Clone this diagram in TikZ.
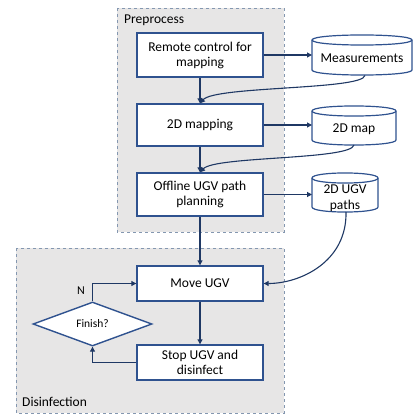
\documentclass[tikz,border=0pt]{standalone}
\usepackage{fontspec}
\setmainfont{Carlito}
\usetikzlibrary{arrows.meta,shapes.geometric,calc}
\definecolor{boxblue}{RGB}{47,82,143}
\definecolor{arrowblue}{RGB}{31,56,100}
\definecolor{groupfill}{RGB}{231,230,230}
\definecolor{groupline}{RGB}{132,151,176}
\tikzset{
  group/.style={fill=groupfill,draw=groupline,dashed,line width=0.9pt},
  proc/.style={draw=boxblue,fill=white,line width=1.4pt,minimum width=126pt,align=center,inner sep=1pt,font=\fontsize{13.5}{15}\selectfont},
  cyl/.style={draw=boxblue,fill=white,line width=1.2pt},
  lbl/.style={inner sep=0pt,font=\fontsize{13.5}{15}\selectfont,align=center},
  conn/.style={draw=arrowblue,line width=1.1pt,-{Triangle[length=5pt,width=5pt]}},
  dec/.style={diamond,draw=boxblue,fill=white,line width=1.4pt,minimum width=119pt,minimum height=44pt,inner sep=0pt,font=\fontsize{11.5}{13}\selectfont}
}
\begin{document}
\begin{tikzpicture}[x=1pt,y=-1pt]
\useasboundingbox (0,0) rectangle (414,414);
% groups
\draw[group] (117,8) rectangle (284,232);
\draw[group] (16,248) rectangle (284,413);
\node[lbl,anchor=west] (pre) at (124,20) {Preprocess};
\node[lbl,anchor=west] (dis) at (22,402) {Disinfection};
% process boxes
\node[proc,minimum height=44pt] (remote) at (200,55) {Remote control for\\mapping};
\node[proc,minimum height=42pt] (map) at (200,125) {2D mapping};
\node[proc,minimum height=43pt] (plan) at (200,194.5) {Offline UGV path\\planning};
\node[proc,minimum height=35pt] (move) at (200,283.5) {Move UGV};
\node[proc,minimum height=35pt] (stop) at (200,362.5) {Stop UGV and\\disinfect};
\node[dec] (fin) at (92.5,324) {Finish?};
% cylinders
\filldraw[cyl] (312,40) -- (312,70) .. controls (312,76.7) and (412,76.7) .. (412,70) -- (412,40) .. controls (412,33.3) and (312,33.3) .. (312,40) -- cycle;
\draw[cyl,fill=none] (312,40) .. controls (312,46.7) and (412,46.7) .. (412,40);
\node[lbl] (meas) at (362,58) {Measurements};
\coordinate (measbot) at (365,75.5);
\filldraw[cyl] (312,111) -- (312,140) .. controls (312,146.7) and (396,146.7) .. (396,140) -- (396,111) .. controls (396,104.3) and (312,104.3) .. (312,111) -- cycle;
\draw[cyl,fill=none] (312,111) .. controls (312,117.7) and (396,117.7) .. (396,111);
\node[lbl] (dmap) at (354,129) {2D map};
\coordinate (dmapbot) at (354,145);
\filldraw[cyl] (312,178) -- (312,207) .. controls (312,213.7) and (378,213.7) .. (378,207) -- (378,178) .. controls (378,171.3) and (312,171.3) .. (312,178) -- cycle;
\draw[cyl,fill=none] (312,178) .. controls (312,184.7) and (378,184.7) .. (378,178);
\node[lbl,font=\fontsize{13.5}{16}\selectfont] (paths) at (345,198) {2D UGV\\paths};
\coordinate (pathsbot) at (346,212);
% connectors
\draw[conn] (remote.east) -- (312,55);
\draw[conn] (map.east) -- (312,125);
\draw[conn] (plan.east) -- (312,194.5);
\draw[conn] (remote.south) -- (map.north);
\draw[conn] (map.south) -- (plan.north);
\draw[conn] (plan.south) -- (move.north);
\draw[conn] (move.south) -- (stop.north);
\draw[conn] (measbot) .. controls (362,90) and (215,86) .. (map.north);
\draw[conn] (dmapbot) .. controls (351,160) and (215,156) .. (plan.north);
\draw[conn] (pathsbot) .. controls (347,262) and (300,283.5) .. (move.east);
\draw[conn] (stop.west) -| (fin.south);
\draw[conn] (fin.north) |- (move.west);
\node[lbl,font=\fontsize{12}{14}\selectfont] (n) at (81,291) {N};
\end{tikzpicture}
\end{document}
